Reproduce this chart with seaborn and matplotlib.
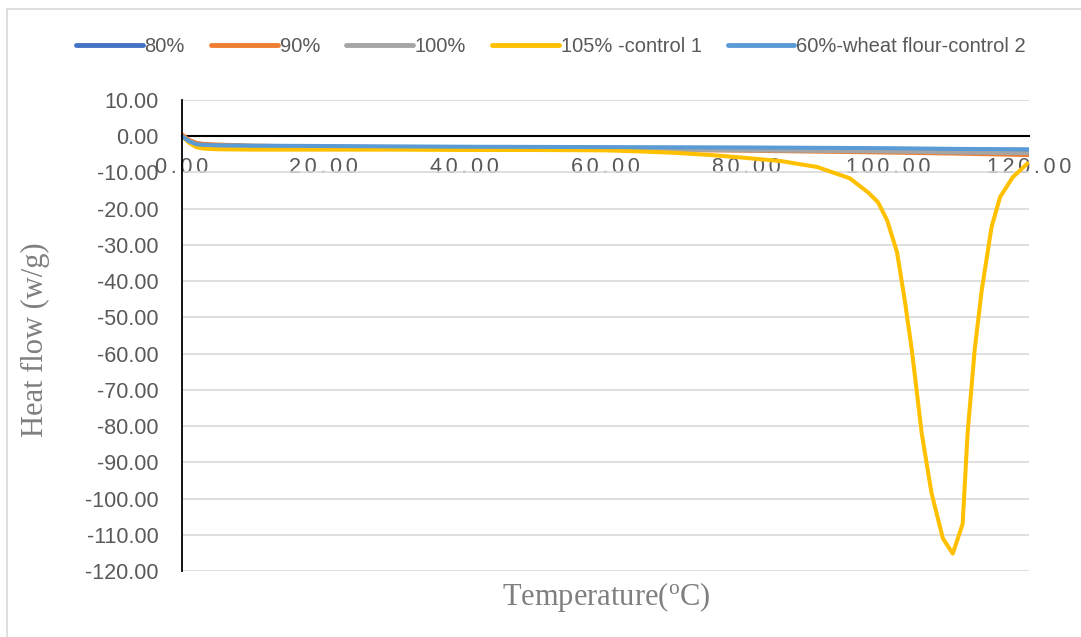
import numpy as np
import pandas as pd
import seaborn as sns
import matplotlib.pyplot as plt
from matplotlib.patches import Rectangle

sns.set_style("white")
plt.rcParams['font.family'] = ['Liberation Sans', 'DejaVu Sans']

# flat series share one temperature list
temp_flat = [0, 1, 2, 3, 5, 10, 20, 40, 60, 80, 100, 110, 120]
hf_80 = [0, -1.2, -2.0, -2.3, -2.5, -2.7, -2.9, -3.1, -3.2, -3.4, -3.6, -3.8, -4.0]
hf_90 = [0.5, -1.0, -1.8, -2.1, -2.3, -2.6, -2.9, -3.3, -3.6, -4.0, -4.5, -4.8, -5.2]
hf_100 = [0, -1.3, -2.2, -2.5, -2.7, -2.9, -3.1, -3.4, -3.6, -3.9, -4.2, -4.5, -4.7]
hf_60 = [0, -1.4, -2.2, -2.4, -2.5, -2.6, -2.7, -2.9, -3.0, -3.1, -3.3, -3.5, -3.6]

# control 1 has the big endothermic peak
temp_105 = [0, 1, 2, 3, 5, 10, 20, 30, 40, 50, 60, 65, 70, 75, 80, 85, 90,
            94.6, 97.2, 98.6, 99.9, 101.3, 102.4, 103.4, 104.8, 106.2, 107.8,
            109.2, 110.6, 111.3, 112.3, 113.3, 114.7, 115.9, 117.7, 119.8]
hf_105 = [0, -1.8, -3.0, -3.4, -3.6, -3.7, -3.7, -3.7, -3.8, -3.8, -3.9, -4.2,
          -4.6, -5.2, -6.0, -6.9, -8.5, -11.6, -15.5, -18.2, -23.2, -32.0,
          -45.3, -59.0, -82.0, -98.6, -111.0, -115.2, -107.0, -82.0, -59.0,
          -42.5, -25.0, -16.8, -11.3, -7.5]

labels = ['80%', '90%', '100%', '105% -control 1', '60%-wheat flour-control 2']
colors = ['#4472C4', '#ED7D31', '#A5A5A5', '#FFC000', '#5B9BD5']

x_ticks = [0, 20, 40, 60, 80, 100, 120]
x_tick_labels = ['0.00', '20.00', '40.00', '60.00', '80.00', '100.00', '120.00']
y_ticks = list(range(10, -121, -10))

frames = []
for lab, t, h in [(labels[0], temp_flat, hf_80), (labels[1], temp_flat, hf_90),
                  (labels[2], temp_flat, hf_100), (labels[3], temp_105, hf_105),
                  (labels[4], temp_flat, hf_60)]:
    frames.append(pd.DataFrame({'Temperature': t, 'Heat flow': h, 'Series': lab}))
df = pd.concat(frames, ignore_index=True)

fig = plt.figure(figsize=(10.81, 6.37), dpi=100)
ax = fig.add_axes([182 / 1081, 1 - 571 / 637, (1029 - 182) / 1081, (571 - 100) / 637])

sns.lineplot(data=df, x='Temperature', y='Heat flow', hue='Series',
             hue_order=labels, palette=colors, sort=False, linewidth=2.9,
             estimator=None, ax=ax, legend=False)

ax.set_xlim(0, 120)
ax.set_ylim(-120, 10)
ax.set_yticks(y_ticks)
ax.set_yticklabels([f'{v:.2f}' for v in y_ticks])
ax.set_xticks(x_ticks)
# Excel draws these with wide letter spacing
ax.set_xticklabels(['\u2006'.join(s) for s in x_tick_labels])
ax.grid(axis='y', color='#D9D9D9', linewidth=1.2)
ax.grid(axis='x', visible=False)
ax.set_axisbelow(True)

for s in ['top', 'right']:
    ax.spines[s].set_visible(False)
ax.spines['left'].set_color('black')
ax.spines['left'].set_linewidth(1.3)
ax.spines['bottom'].set_position(('data', 0))
ax.spines['bottom'].set_color('black')
ax.spines['bottom'].set_linewidth(1.5)
ax.spines['bottom'].set_zorder(1)
ax.tick_params(axis='both', length=0, colors='#595959')
ax.tick_params(axis='x', pad=15, labelsize=15.5)
ax.tick_params(axis='y', pad=17, labelsize=15.5)
ax.set_xlabel('')
ax.set_ylabel('')

fig.text(606 / 1081, 1 - 597 / 637, r'Temperature($\mathregular{^o}$C)',
         family='Liberation Serif', fontsize=22, color='#7F7F7F',
         ha='center', va='center')
fig.text(35 / 1081, 1 - 340 / 637, 'Heat flow (w/g)', family='Liberation Serif',
         fontsize=22, color='#7F7F7F', rotation=90, ha='center', va='center')

handles = [plt.Line2D([], [], color=c, linewidth=3.5, solid_capstyle='round')
           for c in colors]
fig.legend(handles, labels, loc='center', bbox_to_anchor=(551 / 1081, 1 - 47 / 637),
           ncol=5, frameon=False, fontsize=14.5, labelcolor='#595959',
           handlelength=3.3, handletextpad=0.1, columnspacing=1.3)

fig.patches.append(Rectangle((7 / 1081, -0.1), 1.2, 1 - 9 / 637 + 0.1,
                             transform=fig.transFigure, fill=False,
                             edgecolor='#D9D9D9', linewidth=1.2))

fig.savefig('out.png', dpi=100)
